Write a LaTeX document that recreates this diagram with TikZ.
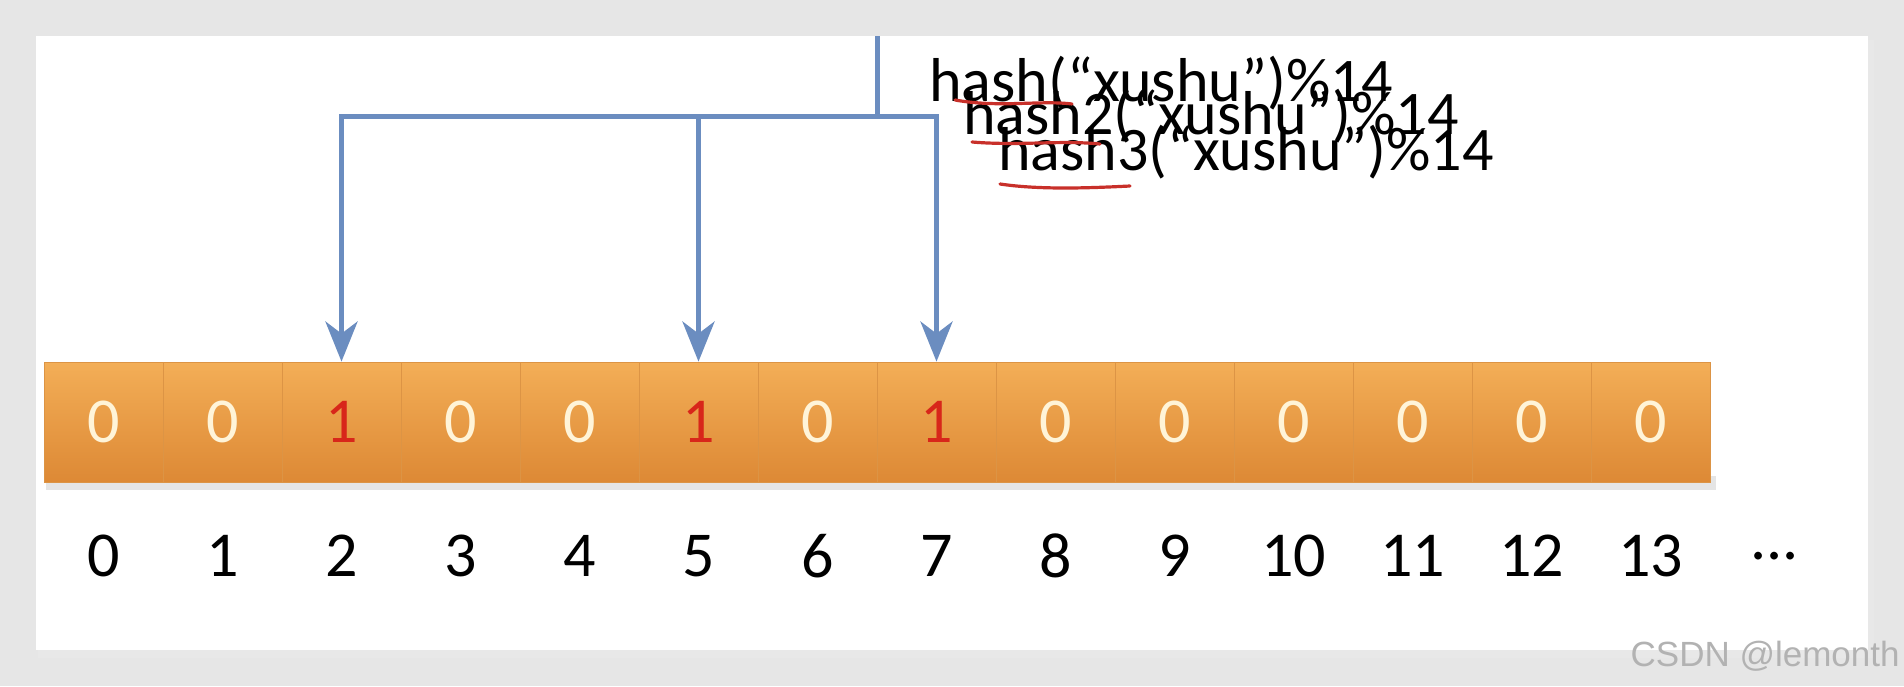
\documentclass[tikz,border=0pt]{standalone}
\usepackage{fontspec}
\setmainfont{Carlito}
\newfontfamily\markfont{Liberation Sans}
\usetikzlibrary{arrows.meta,positioning}

\definecolor{slidegray}{HTML}{E6E6E6}
\definecolor{bartop}{HTML}{F3AE57}
\definecolor{barbottom}{HTML}{DD8935}
\definecolor{barline}{HTML}{DC9445}
\definecolor{zerocol}{HTML}{FFF4D8}
\definecolor{onecol}{HTML}{D8261A}
\definecolor{linkblue}{HTML}{6B8DC0}
\definecolor{penred}{HTML}{C8302A}

\tikzset{
  cell/.style={rectangle, draw=barline, line width=0.4pt, top color=bartop, bottom color=barbottom,
    minimum width=59.5pt, minimum height=60pt, inner sep=0pt,
    font=\fontsize{32}{38}\selectfont, text=zerocol},
  setbit/.style={cell, text=onecol},
  idx/.style={inner sep=0pt, font=\fontsize{32}{38}\selectfont},
  hashtext/.style={anchor=west, inner sep=0pt, font=\fontsize{31}{36}\selectfont},
  link/.style={draw=linkblue, line width=2.5pt},
  pen/.style={draw=penred, line width=1.6pt, line cap=round}
}

\begin{document}
\begin{tikzpicture}[x=0.5pt,y=-0.5pt,node distance=59.5pt]
  \useasboundingbox (0,0) rectangle (1904,686);
  % slide
  \fill[slidegray] (0,0) rectangle (1904,686);
  \fill[black!9] (38,40) rectangle (1874,658);
  \fill[white] (36,36) rectangle (1868,650);
  % shadow of the array
  \fill[black!10] (46,476) rectangle (1716,490);

  % bit array
  \node[cell] (c0) at (103.5,422) {0};
  \node[cell] (c1) [right of=c0] {0};
  \node[setbit] (c2) [right of=c1] {1};
  \node[cell] (c3) [right of=c2] {0};
  \node[cell] (c4) [right of=c3] {0};
  \node[setbit] (c5) [right of=c4] {1};
  \node[cell] (c6) [right of=c5] {0};
  \node[setbit] (c7) [right of=c6] {1};
  \node[cell] (c8) [right of=c7] {0};
  \node[cell] (c9) [right of=c8] {0};
  \node[cell] (c10) [right of=c9] {0};
  \node[cell] (c11) [right of=c10] {0};
  \node[cell] (c12) [right of=c11] {0};
  \node[cell] (c13) [right of=c12] {0};

  % indices
  \node[idx] (i0) [below of=c0, node distance=67pt] {0};
  \node[idx] (i1) [right of=i0] {1};
  \node[idx] (i2) [right of=i1] {2};
  \node[idx] (i3) [right of=i2] {3};
  \node[idx] (i4) [right of=i3] {4};
  \node[idx] (i5) [right of=i4] {5};
  \node[idx] (i6) [right of=i5] {6};
  \node[idx] (i7) [right of=i6] {7};
  \node[idx] (i8) [right of=i7] {8};
  \node[idx] (i9) [right of=i8] {9};
  \node[idx] (i10) [right of=i9] {10};
  \node[idx] (i11) [right of=i10] {11};
  \node[idx] (i12) [right of=i11] {12};
  \node[idx] (i13) [right of=i12] {13};
  \node[idx] (more) [right of=i13, node distance=62pt] {...};

  % hash functions
  \node[hashtext] (h1) at (929,83) {hash(“xushu”)\%14};
  \node[hashtext] (h2) at (963,116) {hash2(“xushu”)\%14};
  \node[hashtext] (h3) at (998,152) {hash3(“xushu”)\%14};
  \draw[pen] (955,100) .. controls (1000,108) and (1040,100) .. (1072,104);
  \draw[pen] (972,142) .. controls (1020,146) and (1060,140) .. (1100,144);
  \draw[pen] (1000,184) .. controls (1040,190) and (1090,188) .. (1130,186);

  % links
  \coordinate (src) at (877,36);
  \coordinate (hub) at (877,116);
  \draw[link] (src) -- (hub);
  \draw[link, -{Stealth[length=20pt,width=16pt,inset=6pt]}] (hub) -| (c2.north);
  \draw[link, -{Stealth[length=20pt,width=16pt,inset=6pt]}] (hub) -| (c5.north);
  \draw[link, -{Stealth[length=20pt,width=16pt,inset=6pt]}] (hub) -| (c7.north);

  % watermark
  \node[anchor=east, inner sep=0pt, text=black!30, font=\markfont\fontsize{17.5}{20}\selectfont] (mark) at (1900,656) {CSDN @lemonth};
\end{tikzpicture}
\end{document}
